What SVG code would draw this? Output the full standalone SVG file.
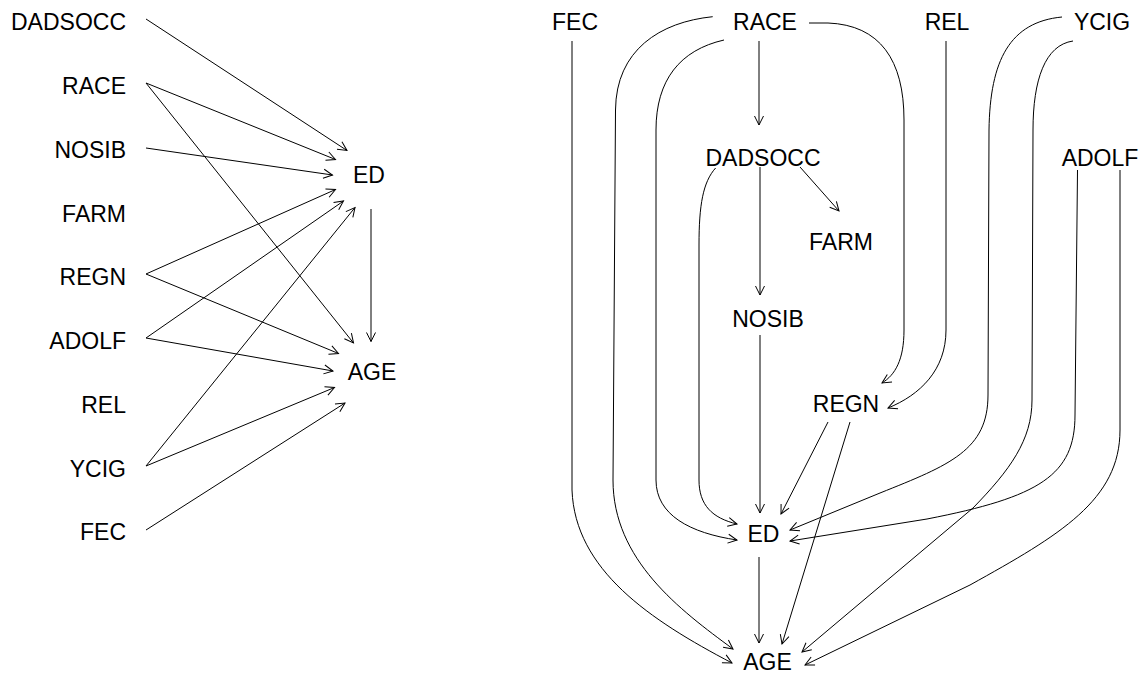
<svg xmlns="http://www.w3.org/2000/svg" width="1145" height="673" viewBox="0 0 1145 673">
  <style>
    .bg { fill: #ffffff; }
    .lbl { font-family: "Liberation Sans", Arial, sans-serif; font-size: 23px; fill: #000000; }
    .lbl-l { text-anchor: end; }
    .lbl-r { text-anchor: middle; }
    .edge { fill: none; stroke: #000000; stroke-width: 1; marker-end: url(#arrow); }
  </style>
  <defs>
    <marker id="arrow" viewBox="-10 -6 12 12" refX="0" refY="0" markerWidth="12" markerHeight="12" markerUnits="userSpaceOnUse" orient="auto">
      <path d="M-9,-4.5 L0,0 L-9,4.5" fill="none" stroke="#000000" stroke-width="1"/>
    </marker>
  </defs>
  <rect class="bg" x="0" y="0" width="1145" height="673"/>

  <!-- Left graph: all causes feeding ED and AGE -->
  <g id="left-nodes">
    <g id="l-DADSOCC"><text class="lbl lbl-l" x="126" y="30">DADSOCC</text></g>
    <g id="l-RACE"><text class="lbl lbl-l" x="126" y="94">RACE</text></g>
    <g id="l-NOSIB"><text class="lbl lbl-l" x="126" y="157.5">NOSIB</text></g>
    <g id="l-FARM"><text class="lbl lbl-l" x="126" y="221.5">FARM</text></g>
    <g id="l-REGN"><text class="lbl lbl-l" x="126" y="285">REGN</text></g>
    <g id="l-ADOLF"><text class="lbl lbl-l" x="126" y="349">ADOLF</text></g>
    <g id="l-REL"><text class="lbl lbl-l" x="126" y="412.5">REL</text></g>
    <g id="l-YCIG"><text class="lbl lbl-l" x="126" y="476.5">YCIG</text></g>
    <g id="l-FEC"><text class="lbl lbl-l" x="126" y="540">FEC</text></g>
    <g id="l-ED"><text class="lbl lbl-r" x="369" y="183">ED</text></g>
    <g id="l-AGE"><text class="lbl lbl-r" x="372" y="380">AGE</text></g>
  </g>

  <g id="left-connectors">
    <path class="edge" d="M146,19 L347,150.5"/>
    <path class="edge" d="M146,83 L335.5,159.5"/>
    <path class="edge" d="M146,83 L353.5,343"/>
    <path class="edge" d="M146,148 L332.5,175"/>
    <path class="edge" d="M146,274 L335.5,189.5"/>
    <path class="edge" d="M146,274 L338.5,353.5"/>
    <path class="edge" d="M146,338 L343.5,201"/>
    <path class="edge" d="M146,338 L333,371"/>
    <path class="edge" d="M146,466 L355,207.5"/>
    <path class="edge" d="M146,466 L334.5,387.5"/>
    <path class="edge" d="M146,530 L345,403"/>
    <path class="edge" d="M371,209 L371,341.5"/>
  </g>

  <!-- Right graph: layered layout -->
  <g id="right-nodes">
    <g id="r-FEC"><text class="lbl lbl-r" x="575" y="30">FEC</text></g>
    <g id="r-RACE"><text class="lbl lbl-r" x="765" y="30">RACE</text></g>
    <g id="r-REL"><text class="lbl lbl-r" x="947" y="30">REL</text></g>
    <g id="r-YCIG"><text class="lbl lbl-r" x="1102" y="30">YCIG</text></g>
    <g id="r-DADSOCC"><text class="lbl lbl-r" x="763" y="166">DADSOCC</text></g>
    <g id="r-ADOLF"><text class="lbl lbl-r" x="1100" y="166">ADOLF</text></g>
    <g id="r-FARM"><text class="lbl lbl-r" x="841" y="250">FARM</text></g>
    <g id="r-NOSIB"><text class="lbl lbl-r" x="768" y="327">NOSIB</text></g>
    <g id="r-REGN"><text class="lbl lbl-r" x="846" y="412">REGN</text></g>
    <g id="r-ED"><text class="lbl lbl-r" x="763.5" y="542">ED</text></g>
    <g id="r-AGE"><text class="lbl lbl-r" x="767.5" y="670">AGE</text></g>
  </g>

  <g id="right-connectors">
    <!-- straight links -->
    <path class="edge" d="M759,41 L759,125"/>
    <path class="edge" d="M800,167 L839,211"/>
    <path class="edge" d="M760,167 L760,295"/>
    <path class="edge" d="M760,335 L760,513"/>
    <path class="edge" d="M759,557 L759,643"/>
    <path class="edge" d="M828,422 L781,514"/>
    <path class="edge" d="M850,422 L782,644"/>
    <!-- routed links -->
    <path class="edge" d="M715.6,168 C703,182 699,205 699,245 L699,480 C699,505 712,518 737,524"/>
    <path class="edge" d="M724,40 C680,50 656,80 656,130 L656,480 C656,515 690,533 737,540"/>
    <path class="edge" d="M712.7,16.7 C660,22 616,50 615.5,110 L613,480 C613,560 680,610 733,649"/>
    <path class="edge" d="M572,41 L572,490 C575,570 650,620 732,663"/>
    <path class="edge" d="M809,23 L828,23 C880,25 904,60 904,120 L904,330 C904,360 895,375 882,383"/>
    <path class="edge" d="M946,41 L946,330 C946,370 920,395 888,408"/>
    <path class="edge" d="M1062,17 C1010,22 990,60 989,130 L988,395 C988,450 950,465 880,493 L790,530"/>
    <path class="edge" d="M1073,41 C1045,45 1033,80 1033,130 L1032,400 C1032,440 1010,470 973,508 L802,652"/>
    <path class="edge" d="M1077.5,170 L1075,415 C1075,475 1040,497 927,519 L790,541"/>
    <path class="edge" d="M1120,170 L1120,430 C1120,500 1060,535 970,585 L805,665"/>
  </g>
</svg>
